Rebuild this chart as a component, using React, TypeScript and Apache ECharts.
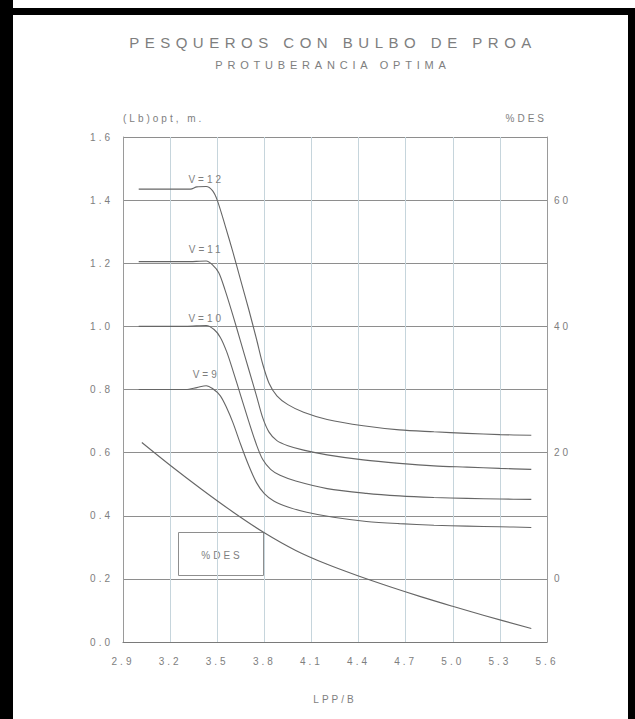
import React, { useEffect, useRef } from "react";
import * as echarts from "echarts";

// Optimum bulb protrusion (m) against LPP/B, one curve per speed
const v12: number[][] = [
  [3.0, 1.435], [3.33, 1.435], [3.37, 1.442], [3.43, 1.443], [3.47, 1.43], [3.5, 1.4],
  [3.55, 1.32], [3.6, 1.235], [3.65, 1.145], [3.7, 1.055], [3.75, 0.96], [3.79, 0.88],
  [3.83, 0.82], [3.88, 0.78], [3.95, 0.752], [4.05, 0.728], [4.2, 0.705], [4.43, 0.685],
  [4.66, 0.672], [4.88, 0.666], [5.09, 0.661], [5.3, 0.657], [5.5, 0.655],
];
const v11: number[][] = [
  [3.0, 1.205], [3.3, 1.205], [3.43, 1.207], [3.47, 1.195], [3.51, 1.17], [3.55, 1.115],
  [3.6, 1.035], [3.65, 0.95], [3.7, 0.865], [3.75, 0.78], [3.79, 0.71], [3.83, 0.665],
  [3.88, 0.638], [3.95, 0.622], [4.05, 0.608], [4.2, 0.593], [4.43, 0.577], [4.66, 0.566],
  [4.88, 0.558], [5.09, 0.554], [5.3, 0.55], [5.5, 0.547],
];
const v10: number[][] = [
  [3.0, 1.0], [3.3, 1.0], [3.43, 1.003], [3.48, 0.99], [3.52, 0.965], [3.56, 0.92],
  [3.6, 0.86], [3.65, 0.78], [3.7, 0.7], [3.75, 0.625], [3.79, 0.578], [3.84, 0.547],
  [3.9, 0.528], [4.0, 0.51], [4.2, 0.486], [4.45, 0.471], [4.66, 0.463],
  [4.88, 0.458], [5.09, 0.455], [5.3, 0.453], [5.5, 0.452],
];
const v9: number[][] = [
  [3.0, 0.8], [3.3, 0.8], [3.37, 0.806], [3.43, 0.812], [3.47, 0.803], [3.52, 0.78],
  [3.56, 0.742], [3.6, 0.695], [3.65, 0.625], [3.7, 0.56], [3.75, 0.505], [3.8, 0.47],
  [3.86, 0.447], [3.95, 0.428], [4.07, 0.411], [4.24, 0.395], [4.45, 0.382],
  [4.66, 0.375], [4.88, 0.37], [5.09, 0.367], [5.3, 0.365], [5.5, 0.363],
];
// Resistance reduction (%DES), read on the right-hand axis
const desCurve: number[][] = [
  [3.02, 21.6], [3.2, 18.0], [3.4, 14.2], [3.6, 10.6], [3.8, 7.3], [4.0, 4.5],
  [4.2, 2.3], [4.4, 0.45], [4.6, -1.25], [4.8, -2.85], [5.0, -4.35], [5.2, -5.8],
  [5.5, -7.85],
];

const speedNames = ["V=12", "V=11", "V=10", "V=9"];
const speedLabelX = 3.43;
const speedLabelGap = [2, 6, 1, 6];
const rightTicks = [0, 20, 40, 60];

const INK = "#666666";
const TEXT = "#7e7e7e";
const FONT = "Liberation Sans";

function labelled(data: number[][], name: string, gap: number) {
  return data.map(([x, y]) =>
    x === speedLabelX
      ? {
          value: [x, y],
          label: {
            show: true,
            formatter: name,
            position: "top",
            distance: gap,
            color: TEXT,
            fontSize: 10,
            fontFamily: FONT,
          },
        }
      : [x, y]
  );
}

export default function App() {
  const ref = useRef<HTMLDivElement>(null);

  useEffect(() => {
    if (!ref.current) return;
    const chart = echarts.init(ref.current, null, { renderer: "svg" });

    const curveSeries = [v12, v11, v10, v9].map((d, i) => ({
      type: "line",
      name: speedNames[i],
      data: labelled(d, speedNames[i], speedLabelGap[i]),
      yAxisIndex: 0,
      smooth: 0.3,
      showSymbol: true,
      showAllSymbol: true,
      symbol: "circle",
      symbolSize: 1,
      itemStyle: { color: "rgba(0,0,0,0)" },
      lineStyle: { color: INK, width: 1.1 },
      silent: true,
    }));

    chart.setOption({
      animation: false,
      backgroundColor: "#ffffff",
      textStyle: { fontFamily: FONT },
      grid: { left: 123, right: 88, top: 137, bottom: 77 },
      xAxis: {
        type: "value",
        min: 2.9,
        max: 5.6,
        interval: 0.3,
        name: "LPP/B",
        nameLocation: "middle",
        nameGap: 52,
        nameTextStyle: { color: TEXT, fontSize: 10, fontFamily: FONT },
        axisLine: { show: true, lineStyle: { color: "#7a7a7a", width: 1.2 } },
        axisTick: { show: false },
        axisLabel: {
          color: TEXT,
          fontSize: 10,
          fontFamily: FONT,
          margin: 14,
          formatter: (v: number) => v.toFixed(1),
        },
        splitLine: { show: true, lineStyle: { color: "#c6d5dc", width: 1 } },
      },
      yAxis: [
        {
          type: "value",
          min: 0,
          max: 1.6,
          interval: 0.2,
          name: "(Lb)opt, m.",
          nameLocation: "end",
          nameGap: 14,
          nameTextStyle: { color: TEXT, fontSize: 10, fontFamily: FONT, align: "left" },
          axisLine: { show: true, lineStyle: { color: "#9a9a9a", width: 1 } },
          axisTick: { show: false },
          axisLabel: {
            color: TEXT,
            fontSize: 10,
            fontFamily: FONT,
            margin: 10,
            formatter: (v: number) => v.toFixed(1),
          },
          splitLine: { show: true, lineStyle: { color: "#8e8e8e", width: 1 } },
        },
        {
          type: "value",
          min: -10,
          max: 70,
          interval: 10,
          position: "right",
          name: "%DES",
          nameLocation: "end",
          nameGap: 14,
          nameTextStyle: { color: TEXT, fontSize: 10, fontFamily: FONT, align: "right" },
          axisLine: { show: true, onZero: false, lineStyle: { color: "#9a9a9a", width: 1 } },
          axisTick: { show: false },
          axisLabel: {
            color: TEXT,
            fontSize: 10,
            fontFamily: FONT,
            margin: 7,
            customValues: rightTicks,
          },
          splitLine: { show: false },
        },
      ],
      series: [
        ...curveSeries,
        {
          type: "line",
          name: "%DES",
          data: desCurve,
          yAxisIndex: 1,
          smooth: 0.35,
          showSymbol: false,
          lineStyle: { color: INK, width: 1.1 },
          silent: true,
        },
      ],
      graphic: [
        // scanned sheet frame
        { type: "rect", shape: { x: 0, y: 0, width: 13, height: 719 }, style: { fill: "#000" } },
        { type: "rect", shape: { x: 0, y: 8, width: 635, height: 7 }, style: { fill: "#000" } },
        { type: "rect", shape: { x: 628, y: 8, width: 7, height: 711 }, style: { fill: "#000" } },
        {
          type: "text",
          x: 333,
          y: 42,
          style: {
            text: "PESQUEROS CON BULBO DE PROA",
            fill: TEXT,
            font: `15px '${FONT}'`,
            align: "center",
            verticalAlign: "middle",
          },
        },
        {
          type: "text",
          x: 333,
          y: 65,
          style: {
            text: "PROTUBERANCIA OPTIMA",
            fill: TEXT,
            font: `11px '${FONT}'`,
            align: "center",
            verticalAlign: "middle",
          },
        },
        {
          type: "rect",
          shape: { x: 178.5, y: 532.5, width: 85, height: 43 },
          style: { fill: "none", stroke: "#8e8e8e", lineWidth: 1 },
        },
        {
          type: "text",
          x: 222,
          y: 555,
          style: {
            text: "%DES",
            fill: TEXT,
            font: `10px '${FONT}'`,
            align: "center",
            verticalAlign: "middle",
          },
        },
      ],
    });

    return () => chart.dispose();
  }, []);

  return (
    <>
      <style>{`
        #pesqueros text { letter-spacing: 3px; }
        #pesqueros text[style*="15px"] { letter-spacing: 5.5px; }
        #pesqueros text[style*="11px"] { letter-spacing: 4.8px; }
      `}</style>
      <div
        id="pesqueros"
        ref={ref}
        style={{ position: "absolute", left: 0, top: 0, width: 635, height: 719 }}
      />
    </>
  );
}
